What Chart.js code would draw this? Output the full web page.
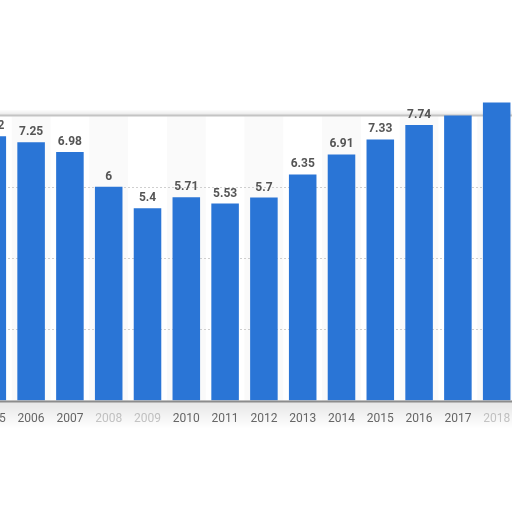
<!DOCTYPE html>
<html>
<head>
<meta charset="utf-8">
<script src="https://cdn.jsdelivr.net/npm/chart.js@4/dist/chart.umd.min.js"></script>
<style>
html,body{margin:0;padding:0;background:#fff;overflow:hidden;width:512px;height:512px;}
#wrap{position:absolute;left:-32px;top:0;width:553px;height:512px;}
</style>
</head>
<body>
<div id="wrap"><canvas id="c"></canvas></div>
<script>
const years = ['2005','2006','2007','2008','2009','2010','2011','2012','2013','2014','2015','2016','2017','2018'];
const values = [7.42, 7.25, 6.98, 6, 5.4, 5.71, 5.53, 5.7, 6.35, 6.91, 7.33, 7.74, 8.0, 8.37];
const shownLabels = [true, true, true, true, true, true, true, true, true, true, true, true, false, false];
const gridValues = [2, 4, 6];
const fadedYears = ['2008', '2009', '2018'];

const decor = {
  id: 'decor',
  beforeDatasetsDraw(chart) {
    const {ctx, chartArea, scales} = chart;
    const x = scales.x, y = scales.y;
    const top = y.getPixelForValue(8), bottom = y.getPixelForValue(0);
    ctx.save();
    for (let i = 0; i < years.length; i++) {
      if (i % 2 === 0) continue;
      const c = x.getPixelForValue(i);
      const half = (x.getPixelForValue(1) - x.getPixelForValue(0)) / 2;
      ctx.fillStyle = '#fafafa';
      ctx.fillRect(c - half, top, half * 2, bottom - top);
    }
    ctx.strokeStyle = '#cfcfcf';
    ctx.lineWidth = 1;
    ctx.setLineDash([2, 2]);
    gridValues.forEach(v => {
      const py = Math.round(y.getPixelForValue(v)) + 0.5;
      ctx.beginPath(); ctx.moveTo(0, py); ctx.lineTo(chart.width, py); ctx.stroke();
    });
    ctx.setLineDash([]);
    const g = ctx.createLinearGradient(0, top - 6, 0, top);
    g.addColorStop(0, 'rgba(0,0,0,0)');
    g.addColorStop(1, 'rgba(0,0,0,0.10)');
    ctx.fillStyle = g;
    ctx.fillRect(0, top - 6, chart.width, 6);
    ctx.strokeStyle = '#c4c4c4';
    ctx.lineWidth = 2;
    ctx.beginPath(); ctx.moveTo(0, top); ctx.lineTo(chart.width, top); ctx.stroke();
    ctx.restore();
  },
  afterDatasetsDraw(chart) {
    const {ctx, scales} = chart;
    const y = scales.y;
    const bottom = y.getPixelForValue(0);
    ctx.save();
    const g = ctx.createLinearGradient(0, bottom, 0, bottom + 28);
    g.addColorStop(0, 'rgba(0,0,0,0.10)');
    g.addColorStop(1, 'rgba(0,0,0,0.0)');
    ctx.fillStyle = g;
    ctx.fillRect(0, bottom, chart.width, 28);
    ctx.strokeStyle = '#8c8c8c';
    ctx.lineWidth = 2;
    ctx.beginPath(); ctx.moveTo(0, bottom + 1); ctx.lineTo(chart.width, bottom + 1); ctx.stroke();
    const meta = chart.getDatasetMeta(0);
    ctx.font = 'bold 12px Roboto, "Open Sans", sans-serif';
    ctx.fillStyle = '#555555';
    ctx.textAlign = 'center';
    ctx.textBaseline = 'bottom';
    meta.data.forEach((bar, i) => {
      if (!shownLabels[i]) return;
      ctx.fillText(String(values[i]), bar.x, bar.y - 4);
    });
    ctx.restore();
  }
};

new Chart(document.getElementById('c'), {
  type: 'bar',
  data: {
    labels: years,
    datasets: [{
      data: values,
      backgroundColor: '#2a75d6',
      borderWidth: 0,
      barPercentage: 0.71,
      categoryPercentage: 1.0
    }]
  },
  options: {
    responsive: true,
    maintainAspectRatio: false,
    animation: false,
    layout: { padding: { top: 80, bottom: 75, left: 0, right: 0 } },
    plugins: { legend: { display: false }, tooltip: { enabled: false } },
    scales: {
      x: {
        grid: { display: false, drawTicks: false },
        border: { display: false },
        ticks: {
          padding: 11,
          font: { size: 12, family: 'Roboto, "Open Sans", sans-serif' },
          color: (ctx) => fadedYears.includes(years[ctx.index]) ? '#c9c9c9' : '#6a6a6a'
        }
      },
      y: {
        display: false,
        min: 0,
        max: 9
      }
    }
  },
  plugins: [decor]
});
</script>
</body>
</html>
